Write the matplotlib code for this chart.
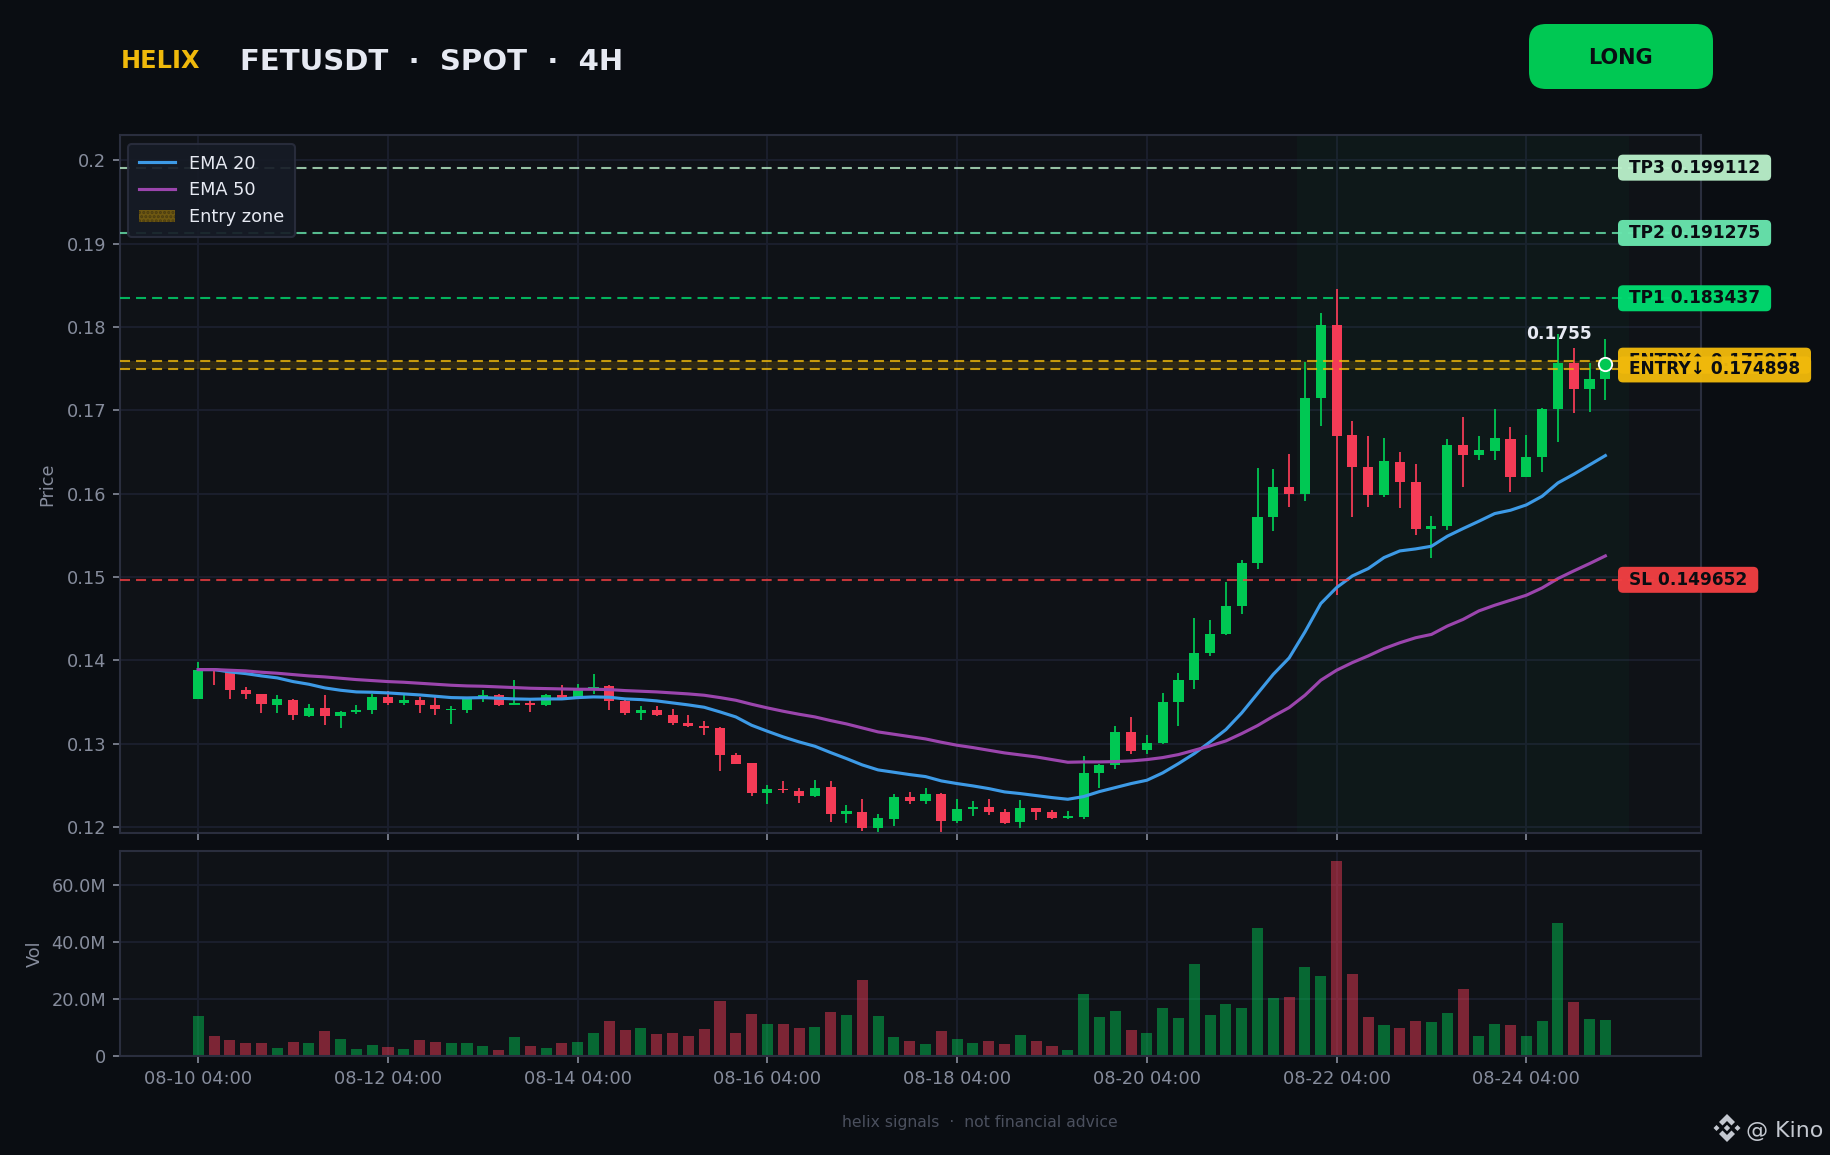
import numpy as np
from matplotlib import pyplot as plt
from matplotlib.patches import FancyBboxPatch, Polygon, Patch
from matplotlib.transforms import IdentityTransform

opens = [.13532, .1389, .1387, .1364, .13592, .1346, .1352, .13328, .13424, .13328,
         .13376, .134, .13556, .13484, .1352, .1346, .134, .134, .13544, .1358,
         .1346, .13484, .1346, .1358, .13552, .1364, .13688, .13508, .13364, .134,
         .1334, .13244, .13208, .13184, .1286, .12764, .12404, .12452, .12428, .12368,
         .12476, .12152, .12176, .11984, .12092, .12356, .12308, .12392, .12068, .12212,
         .12236, .12176, .12056, .12224, .12176, .12104, .12116, .12644, .1274, .13136,
         .1292, .13004, .13496, .1376, .14084, .14312, .14648, .15164, .15716, .16076,
         .15992, .17144, .1802, .167, .16316, .1598, .16376, .16136, .15572, .15608,
         .1658, .1646, .16508, .16652, .16196, .16436, .17012, .17564, .17252, .17372]
highs = [.13976, .1390, .1389, .13676, .13592, .1358, .13532, .13472, .1358, .13388,
         .1346, .13592, .13628, .1358, .13556, .13556, .13448, .1356, .1364, .13592,
         .1376, .1352, .13592, .137, .13712, .13832, .137, .1352, .13448, .13448,
         .13412, .1334, .13268, .13196, .12884, .12764, .125, .12548, .12464, .1256,
         .12548, .1226, .12332, .12152, .12392, .12416, .12464, .12404, .12332, .12308,
         .12332, .12212, .1232, .12224, .122, .12188, .12848, .1275, .13208, .13316,
         .131, .13604, .13844, .14504, .1448, .14936, .152, .16304, .16292, .16472,
         .17576, .18164, .18452, .16868, .16688, .16664, .16496, .16352, .15728, .16652,
         .16916, .16688, .17012, .16796, .167, .17024, .1792, .17744, .17564, .17852]
lows = [.1353, .1370, .13532, .13532, .13364, .13364, .1328, .13316, .1322, .13184,
        .13352, .13352, .1346, .1346, .13364, .1334, .13232, .13364, .13496, .13448,
        .1346, .13376, .13448, .1352, .1354, .13592, .134, .1334, .1328, .13328,
        .1322, .13196, .131, .12668, .12752, .12368, .12272, .12404, .12284, .12356,
        .12056, .12044, .11948, .1193, .12008, .12272, .12272, .1193, .12044, .12128,
        .1214, .12032, .11984, .1208, .12092, .12092, .12092, .12464, .12692, .12872,
        .12872, .12992, .13208, .13652, .14048, .143, .14552, .15092, .15548, .15836,
        .15908, .16808, .1478, .15716, .15836, .15956, .15824, .155, .15224, .1556,
        .16076, .164, .164, .16016, .16196, .16256, .16616, .16964, .16976, .1712]
closes = [.1388, .1387, .1364, .13592, .13472, .13532, .1334, .13424, .13328, .13376,
          .134, .13556, .13484, .1352, .1346, .13412, .13412, .13532, .1358, .1346,
          .13484, .1346, .1358, .13528, .1364, .13676, .13508, .13364, .134, .1334,
          .13244, .13208, .13184, .1286, .12752, .12404, .12452, .1244, .12368, .12464,
          .12152, .12188, .11984, .12104, .12356, .12308, .12392, .12068, .12212, .12236,
          .12176, .12044, .12224, .12176, .12104, .12128, .12644, .1274, .13136, .12908,
          .13004, .13496, .1376, .14084, .14312, .14648, .15164, .15716, .16076, .15992,
          .17144, .1802, .16688, .16316, .1598, .16388, .16136, .15572, .15608, .1658,
          .1646, .1652, .16664, .16196, .16436, .17012, .17564, .17252, .17372, .1755]
volumes = [14.0, 7.0, 5.6, 4.6, 4.6, 2.8, 4.9, 4.6, 8.8, 6.0,
           2.5, 3.9, 3.2, 2.5, 5.6, 4.9, 4.6, 4.6, 3.5, 2.1,
           6.7, 3.5, 2.8, 4.6, 4.9, 8.1, 12.3, 9.1, 9.8, 7.7,
           8.1, 7.0, 9.5, 19.3, 8.1, 14.7, 11.2, 11.2, 9.8, 10.2,
           15.4, 14.4, 26.7, 14.0, 6.7, 5.3, 4.2, 8.8, 6.0, 4.6,
           5.3, 4.2, 7.4, 5.3, 3.5, 2.1, 21.8, 13.7, 15.8, 9.1,
           8.1, 16.8, 13.3, 32.3, 14.4, 18.2, 16.8, 44.9, 20.4, 20.7,
           31.2, 28.1, 68.4, 28.8, 13.7, 10.9, 9.8, 12.3, 11.9, 15.1,
           23.5, 7.0, 11.2, 10.9, 7.0, 12.3, 46.7, 19.0, 13.0, 12.6]
ema20 = [.13888, .13888, .1386, .1384, .13812, .13788, .13744, .13712, .13668, .1364,
         .1362, .13616, .13608, .13596, .13584, .13568, .13552, .13548, .13552, .13544,
         .13536, .13532, .13536, .13536, .13552, .1356, .13556, .13536, .13528, .13512,
         .13488, .13464, .13436, .1338, .1332, .1322, .13148, .1308, .1302, .12968,
         .12892, .1282, .12744, .12684, .12656, .12628, .12604, .12552, .1252, .12492,
         .1246, .1242, .124, .12376, .12352, .12332, .12364, .12424, .12472, .1252,
         .1256, .12648, .1276, .1288, .1302, .13168, .13368, .136, .13832, .14028,
         .1434, .1468, .14872, .15012, .151, .15232, .15312, .15336, .15368, .15488,
         .1558, .15668, .1576, .158, .15864, .15968, .16128, .16232, .16344, .16456]
ema50 = [.13888, .13888, .1388, .13872, .13856, .13844, .13828, .13812, .138, .13784,
         .13768, .13756, .13744, .13736, .13724, .13712, .137, .13692, .13688, .1368,
         .13672, .13664, .1366, .13656, .13652, .13652, .13648, .13636, .13628, .1362,
         .13608, .13596, .1358, .13552, .1352, .13472, .13428, .13388, .13352, .1332,
         .13276, .13236, .13188, .1314, .13112, .13084, .13056, .13016, .1298, .12952,
         .1292, .12888, .12864, .1284, .12808, .12776, .1278, .1278, .12784, .12792,
         .12808, .12832, .12868, .1292, .12972, .13032, .1312, .13216, .13328, .13432,
         .1358, .1376, .1388, .13972, .14052, .1414, .1421, .1427, .1431, .1441,
         .1449, .14592, .1466, .1472, .1478, .14868, .1498, .15072, .1516, .15252]

x_tick_labels = ["08-10 04:00", "08-12 04:00", "08-14 04:00", "08-16 04:00",
                 "08-18 04:00", "08-20 04:00", "08-22 04:00", "08-24 04:00"]
price_ticks = [.12, .13, .14, .15, .16, .17, .18, .19, .2]
price_tick_labels = ["0.12", "0.13", "0.14", "0.15", "0.16", "0.17", "0.18", "0.19", "0.2"]
vol_ticks = [0, 20, 40, 60]
vol_tick_labels = ["0", "20.0M", "40.0M", "60.0M"]

tp_names = ["TP3", "TP2", "TP1"]
tp_levels = [.199112, .191275, .183437]
tp_colors = ["#b9efc9", "#69e6ae", "#00dc70"]
entry_high = .175951
entry_low = .174898
stop_loss = .149652
last_price = .1755

BG = "#0a0d12"
PANEL = "#0f1217"
GRID = "#1b1f2e"
SPINE = "#2a2e3e"
MUTED = "#868c9c"
WHITE = "#e6e9f2"
GREEN = "#00c853"
RED = "#f43b56"
GOLD = "#f0b90b"
SL_COLOR = "#f23f42"
W, H = 1830, 1155


def px_rect(x0, y0, x1, y1):
    return [x0 / W, 1 - y1 / H, (x1 - x0) / W, (y1 - y0) / H]


plt.rcParams["font.family"] = "DejaVu Sans"
fig = plt.figure(figsize=(W / 150, H / 150), dpi=150, facecolor=BG)
ax = fig.add_axes(px_rect(120, 135, 1701, 833), facecolor=PANEL)
ax_vol = fig.add_axes(px_rect(120, 851, 1701, 1056), facecolor=PANEL)

xs = np.arange(len(opens))
is_up = np.array(closes) >= np.array(opens)
colors = [GREEN if up else RED for up in is_up]
x_ticks = np.arange(len(x_tick_labels)) * 12

for a in (ax, ax_vol):
    a.set_axisbelow(True)
    a.grid(True, color=GRID, lw=0.9)
    for side in a.spines:
        a.spines[side].set_color(SPINE)
        a.spines[side].set_linewidth(1.0)
    a.set_xlim(-4.95, 95.05)
    a.set_xticks(x_ticks)
    a.tick_params(colors=MUTED, labelsize=8.5, length=3.2, width=0.8, labelcolor=MUTED)

ax.axvspan(69.5, 90.5, color=GREEN, alpha=0.035, lw=0, zorder=1)
ax.axhspan(entry_low, entry_high, facecolor=GOLD, edgecolor="#1d1a0a", alpha=0.15,
           hatch="......", lw=0, zorder=1.5)

# candles
ax.vlines(xs, lows, highs, colors=colors, lw=0.85, zorder=2)
ax.bar(xs, np.abs(np.array(closes) - np.array(opens)), bottom=np.minimum(opens, closes),
       width=0.64, color=colors, lw=0, zorder=2.5)
line20, = ax.plot(xs, ema20, color="#3d9ae6", lw=1.5, zorder=3)
line50, = ax.plot(xs, ema50, color="#9b45ad", lw=1.5, zorder=3.1)

for level, color in zip(tp_levels, tp_colors):
    ax.axhline(level, color=color, lw=1.0, ls=(0, (4.8, 2.9)), alpha=0.8, zorder=3.5)
ax.axhline(entry_high, color=GOLD, lw=1.0, ls=(0, (4.8, 2.9)), alpha=0.8, zorder=3.5)
ax.axhline(entry_low, color=GOLD, lw=1.0, ls=(0, (4.8, 2.9)), alpha=0.8, zorder=3.5)
ax.axhline(stop_loss, color=SL_COLOR, lw=1.0, ls=(0, (4.8, 2.9)), alpha=0.8, zorder=3.5)

ax.plot([xs[-1]], [last_price], "o", ms=6.4, mfc=GREEN, mec="white", mew=0.9, zorder=6)
ax.annotate(f"{last_price:.4f}", (xs[-1], last_price), xytext=(-22.5, 14.5), textcoords="offset points",
            color=WHITE, fontsize=8.2, fontweight="bold", ha="center", va="center", zorder=6)

ax.set_ylim(.11927, .20303)
ax.set_yticks(price_ticks)
ax.set_yticklabels(price_tick_labels)
ax.tick_params(axis="x", labelbottom=False)
ax.set_ylabel("Price", color=MUTED, fontsize=8.5, labelpad=5)

zone_handle = Patch(facecolor="#6e5812", edgecolor="#4a3c10", hatch="......", lw=0)
leg = ax.legend([line20, line50, zone_handle], ["EMA 20", "EMA 50", "Entry zone"], loc="upper left",
                bbox_to_anchor=(8 / 1581, 1 - 9 / 698), borderaxespad=0, fontsize=8.5,
                borderpad=0.6, handlelength=2.05, facecolor="#161b26", edgecolor=SPINE,
                labelcolor=WHITE, framealpha=0.92)
leg.set_zorder(8)

ax_vol.bar(xs, volumes, width=0.7, color=colors, alpha=0.48, lw=0, zorder=2)
ax_vol.set_ylim(0, 72)
ax_vol.set_yticks(vol_ticks)
ax_vol.set_yticklabels(vol_tick_labels)
ax_vol.set_xticklabels(x_tick_labels)
ax_vol.set_ylabel("Vol", color=MUTED, fontsize=8.5, labelpad=3.5)

fig.canvas.draw()
renderer = fig.canvas.get_renderer()


def level_tag(text, level, color, z):
    y_px = ax.transData.transform((0, level))[1]
    t = fig.text(1629 / W, y_px / H, text, color="#0a0d12", fontsize=8.2, fontweight="bold",
                 va="center", ha="left", zorder=z + 0.5)
    width = t.get_window_extent(renderer).width + 22
    box = FancyBboxPatch((1618, y_px - 13), width, 26, boxstyle="round,pad=0,rounding_size=5",
                         transform=IdentityTransform(), facecolor=color, edgecolor="none", alpha=0.96, zorder=z)
    fig.add_artist(box)


for name, level, color, z in zip(tp_names, tp_levels, tp_colors, [10, 11, 12]):
    level_tag(f"{name} {level:.6f}", level, color, z)
level_tag(f"ENTRY↑ {entry_high:.6f}", entry_high, GOLD, 13)
level_tag(f"ENTRY↓ {entry_low:.6f}", entry_low, GOLD, 14)
level_tag(f"SL {stop_loss:.6f}", stop_loss, SL_COLOR, 15)

# header
fig.text(121 / W, 1 - 60.5 / H, "HELIX", color=GOLD, fontsize=11.5, fontweight="bold", va="center", ha="left")
fig.text(240 / W, 1 - 62.5 / H, "FETUSDT  ·  SPOT  ·  4H", color=WHITE, fontsize=14, fontweight="bold",
         va="center", ha="left")
fig.add_artist(FancyBboxPatch((1529, H - 89), 184, 65, boxstyle="round,pad=0,rounding_size=17",
                              transform=IdentityTransform(), facecolor=GREEN, edgecolor="none"))
fig.text(1620 / W, 1 - 57.5 / H, "LONG", color="#0a0d12", fontsize=10, fontweight="bold", va="center", ha="center")

fig.text(980 / W, 1 - 1122 / H, "helix signals  ·  not financial advice", color="#4b505e", fontsize=7.5,
         va="center", ha="center")

# watermark logo
logo = "#c4c8d0"
cx, cy = 1727, H - 1128
parts = [
    [(0, 14), (8, 6), (4.5, 2.5), (0, 7), (-4.5, 2.5), (-8, 6)],
    [(0, -14), (8, -6), (4.5, -2.5), (0, -7), (-4.5, -2.5), (-8, -6)],
    [(0, 3.2), (3.2, 0), (0, -3.2), (-3.2, 0)],
    [(-10.5, 3), (-7.5, 0), (-10.5, -3), (-13.5, 0)],
    [(10.5, 3), (13.5, 0), (10.5, -3), (7.5, 0)],
]
for part in parts:
    fig.add_artist(Polygon([(cx + dx, cy + dy) for dx, dy in part], closed=True, facecolor=logo,
                           edgecolor="none", transform=IdentityTransform()))
fig.text(1746 / W, 1 - 1131 / H, "@ Kino", color=logo, fontsize=10.6, va="center", ha="left")

fig.savefig("out.png", dpi=150, facecolor=BG)
